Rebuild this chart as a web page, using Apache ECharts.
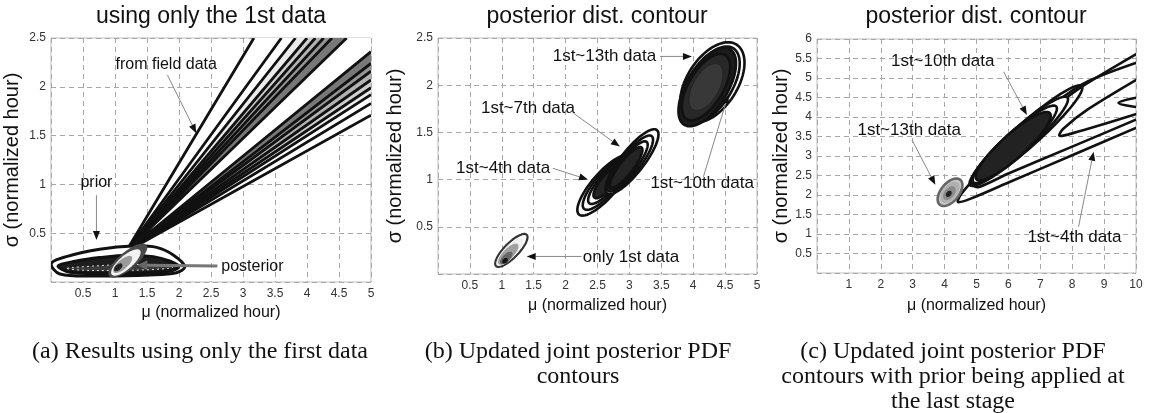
<!DOCTYPE html>
<html>
<head>
<meta charset="utf-8">
<script src="https://cdn.jsdelivr.net/npm/echarts@6/dist/echarts.min.js"></script>
<style>
  html, body { margin: 0; padding: 0; background: #fff; }
  #chart { width: 1149px; height: 413px; }
</style>
</head>
<body>
<div id="chart"></div>
<script>
// ---------- axis ticks ----------
const muTicksAB = [0, 0.5, 1, 1.5, 2, 2.5, 3, 3.5, 4, 4.5, 5];
const sigmaTicksAB = [0, 0.5, 1, 1.5, 2, 2.5];
const muTicksC = [0, 1, 2, 3, 4, 5, 6, 7, 8, 9, 10];
const sigmaTicksC = [0, 0.5, 1, 1.5, 2, 2.5, 3, 3.5, 4, 4.5, 5, 5.5, 6];

// ---------- panel (a): one observation ----------
// likelihood contours: each is a wedge whose upper branch leaves through the top edge
// and whose lower branch leaves through the right edge (outermost first)
const fanTopMu = [3.17, 3.6, 3.82, 4.0, 4.13, 4.26, 4.39, 4.62];
const fanRightSigma = [1.71, 1.83, 1.92, 1.99, 2.07, 2.16, 2.24, 2.36];
const fanApex = [1.17, 0.31];

const priorOuter = [[0.005,0.19],[0.24,0.26],[0.76,0.335],[1.28,0.37],[1.65,0.355],[1.91,0.277],[2.09,0.157],[1.96,0.095],[1.54,0.072],[0.76,0.062],[0.14,0.082]];
const priorBand = [[0.11,0.165],[0.4,0.215],[0.76,0.25],[1.2,0.275],[1.6,0.26],[1.85,0.215],[2.0,0.158],[1.85,0.11],[1.4,0.09],[0.8,0.085],[0.3,0.1]];
const priorCore = [[0.25,0.14],[0.7,0.165],[1.2,0.18],[1.7,0.17],[1.9,0.148],[1.5,0.125],[0.9,0.118],[0.45,0.122]];

// ellipses: [centre mu, centre sigma, semi-major mu, semi-major sigma, minor/major]
const posteriorA = [
  [1.2, 0.22, 0.29, 0.16, 0.36],
  [1.17, 0.2, 0.22, 0.125, 0.36],
  [1.12, 0.18, 0.14, 0.08, 0.4],
  [1.05, 0.15, 0.06, 0.035, 0.55]
];

// ---------- panel (b): sequential updates ----------
const only1st = [
  [1.15, 0.25, 0.24, 0.166, 0.33],
  [1.13, 0.235, 0.2, 0.14, 0.33],
  [1.1, 0.21, 0.15, 0.105, 0.38],
  [1.07, 0.17, 0.09, 0.06, 0.45],
  [1.05, 0.14, 0.035, 0.025, 0.7]
];
const upTo4th = [
  [2.61, 0.94, 0.40, 0.31, 0.32],
  [2.64, 0.96, 0.35, 0.27, 0.31],
  [2.67, 0.98, 0.30, 0.23, 0.30],
  [2.70, 1.00, 0.25, 0.19, 0.30]
];
const upTo7th = [
  [3.04, 1.19, 0.39, 0.335, 0.29],
  [3.01, 1.17, 0.34, 0.29, 0.28],
  [2.98, 1.15, 0.29, 0.25, 0.27],
  [2.95, 1.13, 0.24, 0.21, 0.27]
];
const upTo13th = [
  [4.30, 2.03, 0.38, 0.40, 0.56],
  [4.26, 2.00, 0.37, 0.39, 0.50],
  [4.22, 1.98, 0.36, 0.40, 0.46],
  [4.20, 1.98, 0.30, 0.34, 0.46],
  [4.20, 1.98, 0.20, 0.24, 0.50]
];

// ---------- panel (c): prior applied at the last stage ----------
const cUpTo13th = [
  [4.17, 2.07, 0.32, 0.32, 0.56],
  [4.17, 2.07, 0.25, 0.25, 0.56],
  [4.15, 2.05, 0.16, 0.16, 0.6],
  [4.13, 2.03, 0.07, 0.07, 0.7]
];
const cUpTo10th = [
  [6.55, 3.52, 1.75, 1.27, 0.16],
  [6.35, 3.40, 1.50, 1.10, 0.18],
  [6.20, 3.30, 1.30, 0.97, 0.20],
  [6.15, 3.25, 1.15, 0.85, 0.24]
];
const cUpTo4th = [
  [[10.4,3.86],[8,3.02],[6,2.32],[4.8,1.9],[4.42,1.82],[4.5,2.0],[4.8,2.3],[5.5,2.92],[6.5,3.64],[7.6,4.36],[8.4,4.83],[10.4,5.8]],
  [[10.4,4.07],[8,3.24],[6,2.55],[5.05,2.2],[4.88,2.28],[5.2,2.6],[6.3,3.52],[7.5,4.38],[8.5,4.92],[10.4,5.5]],
  [[10.4,4.18],[9,3.82],[8,3.58],[7.6,3.52],[7.72,3.7],[8.5,4.2],[10.4,5.14]],
  [[10.4,4.22],[9.8,4.28],[9.45,4.36],[9.8,4.46],[10.4,4.55]]
];

// ---------- annotations (data coordinates) ----------
const notesA = [['from field data', 1.8, 2.23, 'center'], ['prior', 0.71, 1.02, 'center'], ['posterior', 2.66, 0.157, 'left']];
const arrowsA = [[1.82, 2.12, 2.27, 1.525], [0.71, 0.89, 0.71, 0.43]];
const thickArrowsA = [[2.6, 0.164, 1.35, 0.174]];
const notesB = [['1st~13th data', 3.42, 2.31, 'right'], ['1st~7th data', 1.41, 1.75, 'center'], ['1st~4th data', 1.02, 1.12, 'center'], ['1st~10th data', 4.14, 0.96, 'center'], ['only 1st data', 2.27, 0.18, 'left']];
const arrowsB = [[3.48, 2.305, 3.98, 2.305], [2.12, 1.705, 2.85, 1.35], [1.8, 1.12, 2.35, 1.0], [4.16, 1.03, 4.55, 1.9], [2.25, 0.186, 1.39, 0.186]];
const notesC = [['1st~10th data', 3.94, 5.42, 'center'], ['1st~13th data', 2.89, 3.67, 'center'], ['1st~4th data', 8.07, 0.92, 'center']];
const arrowsC = [[5.85, 5.16, 6.58, 4.05], [2.98, 3.41, 3.71, 2.26], [8.2, 1.19, 8.67, 3.11]];

// ---------- drawing helpers ----------
function clipOf(params) {
  const c = params.coordSys;
  return { type: 'rect', shape: { x: c.x, y: c.y, width: c.width, height: c.height } };
}
function ellipsePts(api, e) {
  const c = api.coord([e[0], e[1]]);
  const t = api.coord([e[0] + e[2], e[1] + e[3]]);
  const ax = t[0] - c[0], ay = t[1] - c[1];
  const bx = -ay * e[4], by = ax * e[4];
  const pts = [];
  for (let i = 0; i < 72; i++) {
    const a = i / 72 * Math.PI * 2;
    pts.push([c[0] + ax * Math.cos(a) + bx * Math.sin(a), c[1] + ay * Math.cos(a) + by * Math.sin(a)]);
  }
  return pts;
}
// one custom series per drawing layer; styles picked per item index
function layer(axis, items, kind, styleFn, extra) {
  extra = extra || {};
  return {
    type: 'custom', xAxisIndex: axis, yAxisIndex: axis, silent: true, animation: false, clip: true,
    z: extra.z || 2,
    data: items.map(it => kind === 'ellipse' ? [it[0], it[1]] : it[0]),
    renderItem(params, api) {
      const i = params.dataIndex, it = items[i];
      const st = styleFn(i, api);
      let el;
      if (kind === 'ellipse') {
        el = { type: 'polygon', shape: { points: ellipsePts(api, it) }, style: st };
      } else {
        const pts = it.map(p => api.coord(p));
        el = { type: extra.open ? 'polyline' : 'polygon', shape: { points: pts, smooth: extra.smooth == null ? 0.35 : extra.smooth }, style: st };
      }
      el.clipPath = clipOf(params);
      return el;
    }
  };
}
function noteLayer(axis, notes, size) {
  return {
    type: 'custom', xAxisIndex: axis, yAxisIndex: axis, silent: true, animation: false, z: 10,
    data: notes.map(n => [n[1], n[2]]),
    renderItem(params, api) {
      const n = notes[params.dataIndex];
      const p = api.coord([n[1], n[2]]);
      return { type: 'text', x: p[0], y: p[1],
        style: { text: n[0], fill: '#111', font: size + 'px "Liberation Sans", Arial, sans-serif', align: n[3], verticalAlign: 'middle' } };
    }
  };
}
function arrowLayer(axis, arrows, lineColor, lineW, headColor, headLen, headW) {
  return {
    type: 'custom', xAxisIndex: axis, yAxisIndex: axis, silent: true, animation: false, z: 10,
    data: arrows.map(a => [a[2], a[3]]),
    renderItem(params, api) {
      const a = arrows[params.dataIndex];
      const p = api.coord([a[0], a[1]]), q = api.coord([a[2], a[3]]);
      const dx = q[0] - p[0], dy = q[1] - p[1], L = Math.hypot(dx, dy);
      const ux = dx / L, uy = dy / L;
      const bx = q[0] - ux * headLen, by = q[1] - uy * headLen;
      return { type: 'group', children: [
        { type: 'line', shape: { x1: p[0], y1: p[1], x2: bx, y2: by }, style: { stroke: lineColor, lineWidth: lineW } },
        { type: 'polygon', shape: { points: [[q[0], q[1]], [bx - uy * headW, by + ux * headW], [bx + uy * headW, by - ux * headW]] }, style: { fill: headColor } }
      ] };
    }
  };
}

// panel (a) fan contours built from the edge crossings
const fanAxisMax = [muTicksAB[muTicksAB.length - 1], sigmaTicksAB[sigmaTicksAB.length - 1]];
const fanLines = fanTopMu.map((m, k) => [[m, fanAxisMax[1]], fanApex, [fanAxisMax[0], fanRightSigma[k]]]);
const fanAreas = fanLines.map(l => l.concat([[fanAxisMax[0], fanAxisMax[1]]]));

// each likelihood band gets its own grey; the innermost wedge stays white
const bandGrey = ['#fff', '#fff', '#ececec', '#cfcfcf', '#b2b2b2', '#959595', '#787878', '#fff'];

const BLACK = '#111';
const series = [
  // (a)
  layer(0, fanAreas, 'ring', i => ({ fill: bandGrey[i], stroke: null }), { smooth: 0 }),
  layer(0, fanLines, 'ring', () => ({ fill: null, stroke: BLACK, lineWidth: 2.8, lineJoin: 'round' }), { open: true, smooth: 0, z: 3 }),
  layer(0, [priorOuter], 'ring', () => ({ fill: '#fff', stroke: BLACK, lineWidth: 3 }), { z: 4 }),
  layer(0, [priorBand], 'ring', () => ({ fill: '#1e1e1e', stroke: BLACK, lineWidth: 3 }), { z: 4 }),
  layer(0, [priorCore], 'ring', () => ({ fill: '#3a3a3a', stroke: '#ddd', lineWidth: 1, lineDash: [2, 3] }), { z: 4 }),
  layer(0, posteriorA, 'ellipse', i => ({ fill: ['#4a4a4a', '#f2f2f2', '#9a9a9a', '#222'][i], stroke: null }), { z: 5 }),
  // (b)
  layer(1, only1st, 'ellipse', i => ({ fill: ['#fff', '#f0f0f0', '#a0a0a0', '#666', '#111'][i], stroke: i === 0 ? '#333' : null, lineWidth: 2.2 }), { z: 4 }),
  layer(1, upTo4th, 'ellipse', i => ({ fill: i === 3 ? '#242424' : '#fff', stroke: BLACK, lineWidth: 2.6 }), { z: 3 }),
  layer(1, upTo7th, 'ellipse', i => ({ fill: i === 3 ? '#242424' : '#fff', stroke: BLACK, lineWidth: 2.6 }), { z: 4 }),
  layer(1, upTo13th, 'ellipse', i => ({ fill: ['#fff', '#fff', '#1c1c1c', '#282828', '#383838'][i], stroke: i < 4 ? BLACK : '#222', lineWidth: i < 4 ? 2.6 : 1 }), { z: 4 }),
  // (c)
  layer(2, cUpTo4th, 'ring', () => ({ fill: null, stroke: BLACK, lineWidth: 2.6, lineJoin: 'round' }), { open: true, smooth: 0.3, z: 3 }),
  layer(2, cUpTo10th, 'ellipse', i => ({ fill: i === 3 ? '#222' : (i === 0 ? 'rgba(255,255,255,0)' : '#fff'), stroke: BLACK, lineWidth: 2.6 }), { z: 4 }),
  layer(2, cUpTo13th, 'ellipse', i => ({ fill: ['#c8c8c8', '#b0b0b0', '#8a8a8a', '#222'][i], stroke: i === 0 ? '#666' : null, lineWidth: 2.6 }), { z: 4 }),
  // annotations
  noteLayer(0, notesA, 16), arrowLayer(0, arrowsA, '#888', 1, '#111', 9, 3.5), arrowLayer(0, thickArrowsA, '#777', 3, '#666', 10, 5),
  noteLayer(1, notesB, 17), arrowLayer(1, arrowsB, '#888', 1, '#111', 9, 3.5),
  noteLayer(2, notesC, 17), arrowLayer(2, arrowsC, '#888', 1, '#111', 9, 3.5)
];

const FONT = '"Liberation Sans", Arial, sans-serif';
function xAx(idx, ticks, nameGap) {
  return {
    type: 'value', gridIndex: idx, min: ticks[0], max: ticks[ticks.length - 1], interval: ticks[1] - ticks[0],
    name: 'μ (normalized hour)', nameLocation: 'middle', nameGap: nameGap,
    nameTextStyle: { fontFamily: FONT, fontSize: 16, color: '#111' },
    axisLine: { show: false }, axisTick: { show: false },
    axisLabel: { showMinLabel: false, margin: 6, fontFamily: FONT, fontSize: 12, color: '#333' },
    splitLine: { show: true, lineStyle: { color: '#a8a8a8', width: 1, type: [5, 4] } }
  };
}
function yAx(idx, ticks, nameGap) {
  return {
    type: 'value', gridIndex: idx, min: ticks[0], max: ticks[ticks.length - 1], interval: ticks[1] - ticks[0],
    name: 'σ (normalized hour)', nameLocation: 'middle', nameGap: nameGap,
    nameTextStyle: { fontFamily: FONT, fontSize: 20, color: '#111' },
    axisLine: { show: false }, axisTick: { show: false },
    axisLabel: { showMinLabel: false, margin: 5, fontFamily: FONT, fontSize: 12, color: '#333' },
    splitLine: { show: true, lineStyle: { color: '#a8a8a8', width: 1, type: [5, 4] } }
  };
}
const gridBase = { show: true, borderColor: '#bdbdbd', borderWidth: 1, backgroundColor: 'rgba(0,0,0,0)', containLabel: false, outerBoundsMode: 'none' };

function txt(x, y, text, font) {
  return { type: 'text', x: x, y: y, silent: true, style: { text: text, font: font, fill: '#111', align: 'center', verticalAlign: 'middle' } };
}
const TITLE = '23px "Liberation Sans", Arial, sans-serif';
const CAP = '24px "Liberation Serif", "Times New Roman", serif';

const chart = echarts.init(document.getElementById('chart'), null, { renderer: 'canvas' });
chart.setOption({
  animation: false,
  backgroundColor: '#fff',
  grid: [
    Object.assign({ left: 51, top: 38, width: 320, height: 244 }, gridBase),
    Object.assign({ left: 438, top: 38, width: 319, height: 236 }, gridBase),
    Object.assign({ left: 817, top: 39, width: 319, height: 234 }, gridBase)
  ],
  xAxis: [xAx(0, muTicksAB, 20), xAx(1, muTicksAB, 24), xAx(2, muTicksC, 25)],
  yAxis: [yAx(0, sigmaTicksAB, 29), yAx(1, sigmaTicksAB, 33), yAx(2, sigmaTicksC, 23)],
  series: series,
  graphic: [
    txt(211, 17, 'using only the 1st data', TITLE),
    txt(597, 17, 'posterior dist. contour', TITLE),
    txt(976, 17, 'posterior dist. contour', TITLE),
    txt(200, 352, '(a) Results using only the first data', CAP),
    txt(578, 352, '(b) Updated joint posterior PDF', CAP),
    txt(578, 377, 'contours', CAP),
    txt(953, 352, '(c) Updated joint posterior PDF', CAP),
    txt(953, 377, 'contours with prior being applied at', CAP),
    txt(953, 402, 'the last stage', CAP)
  ]
});
</script>
</body>
</html>
